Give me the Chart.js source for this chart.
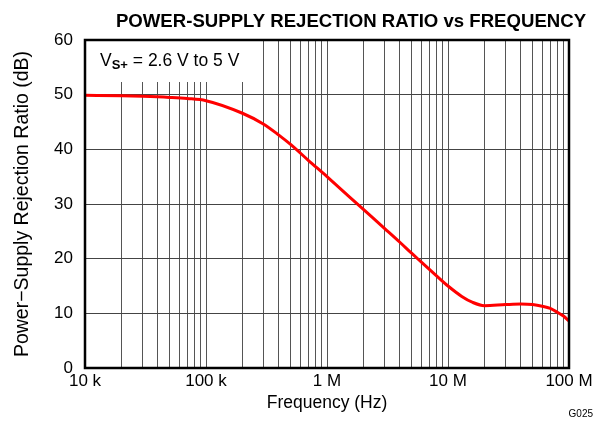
<!DOCTYPE html>
<html>
<head>
<meta charset="utf-8">
<script src="https://cdn.jsdelivr.net/npm/chart.js@4/dist/chart.umd.min.js"></script>
<style>
  html, body { margin: 0; padding: 0; background: #fff; }
  #wrap { width: 608px; height: 421px; position: relative; }
</style>
</head>
<body>
<div id="wrap"><canvas id="psrr"></canvas></div>
<script>
// PSRR curve (frequency in Hz, PSRR in dB)
const freqs = [1e4, 2e4, 3e4, 5e4, 7e4, 1e5, 2e5, 3e5, 4e5, 5e5, 7e5, 1e6, 2e6, 3e6, 4e6, 5e6, 6e6, 8e6, 1e7, 1.3e7, 1.6e7, 2e7, 3e7, 4e7, 5e7, 6e7, 7e7, 8e7, 9e7, 1e8];
const psrr = [49.9, 49.8, 49.7, 49.5, 49.3, 48.9, 46.6, 44.6, 42.6, 40.9, 38.0, 35.0, 29.0, 25.5, 23.0, 21.0, 19.4, 16.9, 15.0, 13.1, 12.0, 11.4, 11.6, 11.7, 11.6, 11.3, 10.9, 10.2, 9.5, 8.6];

// decade labels on the log axis
const decades = [1e4, 1e5, 1e6, 1e7, 1e8];
const decadeLabels = ['10 k', '100 k', '1 M', '10 M', '100 M'];
const yTicks = [0, 10, 20, 30, 40, 50, 60];

const FONT = "'Liberation Sans', Arial, sans-serif";

// one grid line for every 1..9 step in each decade
const gridValues = [];
for (let d = 0; d < decades.length - 1; d++) {
    for (let m = 1; m < 10; m++) gridValues.push(decades[d] * m);
}
gridValues.push(decades[decades.length - 1]);

const frameAndText = {
    id: 'frameAndText',
    beforeDatasetsDraw(chart) {
        const { ctx, chartArea: a } = chart;
        // white label box in the top-left corner
        ctx.save();
        ctx.fillStyle = '#fff';
        ctx.fillRect(a.left, a.top, 170, 42);
        ctx.fillStyle = '#000';
        ctx.textBaseline = 'alphabetic';
        ctx.font = `17.5px ${FONT}`;
        let x = a.left + 15;
        ctx.fillText('V', x, a.top + 26);
        x += ctx.measureText('V').width;
        ctx.font = `bold 13px ${FONT}`;
        ctx.fillText('S+', x, a.top + 29);
        x += ctx.measureText('S+').width;
        ctx.font = `17.5px ${FONT}`;
        ctx.fillText(' = 2.6 V to 5 V', x, a.top + 26);
        ctx.restore();
    },
    afterDraw(chart) {
        const { ctx, chartArea: a } = chart;
        ctx.save();
        ctx.strokeStyle = '#000';
        ctx.lineWidth = 2.5;
        ctx.strokeRect(a.left, a.top, a.right - a.left, a.bottom - a.top);

        ctx.fillStyle = '#000';
        ctx.textAlign = 'center';
        ctx.font = `bold 18.6px ${FONT}`;
        ctx.fillText('POWER-SUPPLY REJECTION RATIO vs FREQUENCY', 351, 27);

        ctx.textAlign = 'right';
        ctx.font = `10px ${FONT}`;
        ctx.fillText('G025', 593, 417);
        ctx.restore();
    }
};

new Chart(document.getElementById('psrr'), {
    type: 'line',
    data: {
        datasets: [{
            data: freqs.map((f, i) => ({ x: f, y: psrr[i] })),
            borderColor: '#ff0000',
            borderWidth: 3,
            pointRadius: 0,
            cubicInterpolationMode: 'monotone',
            fill: false
        }]
    },
    options: {
        responsive: true,
        maintainAspectRatio: false,
        animation: false,
        layout: { padding: { left: 0, right: 39, top: 40, bottom: 0 } },
        plugins: {
            legend: { display: false },
            tooltip: { enabled: false }
        },
        scales: {
            x: {
                type: 'logarithmic',
                min: 1e4,
                max: 1e8,
                afterBuildTicks: scale => {
                    scale.ticks = gridValues.map(v => ({ value: v }));
                },
                afterFit: scale => { scale.height = 53; },
                ticks: {
                    autoSkip: false,
                    maxRotation: 0,
                    padding: 3,
                    color: '#000',
                    font: { family: FONT, size: 17 },
                    callback: value => {
                        const i = decades.indexOf(value);
                        return i >= 0 ? decadeLabels[i] : '';
                    }
                },
                grid: { color: '#555', lineWidth: 1, drawTicks: false },
                border: { display: false },
                title: {
                    display: true,
                    text: 'Frequency (Hz)',
                    color: '#000',
                    font: { family: FONT, size: 17.5 },
                    padding: { top: 0, bottom: 7 }
                }
            },
            y: {
                min: 0,
                max: 60,
                afterBuildTicks: scale => {
                    scale.ticks = yTicks.map(v => ({ value: v }));
                },
                afterFit: scale => { scale.width = 85; },
                ticks: {
                    padding: 12,
                    color: '#000',
                    font: { family: FONT, size: 17 }
                },
                grid: { color: '#444', lineWidth: 1, drawTicks: false },
                border: { display: false },
                title: {
                    display: true,
                    text: 'Power\u2212Supply Rejection Ratio (dB)',
                    color: '#000',
                    font: { family: FONT, size: 19.5 },
                    padding: { top: 11, bottom: 0 }
                }
            }
        }
    },
    plugins: [frameAndText]
});
</script>
</body>
</html>
